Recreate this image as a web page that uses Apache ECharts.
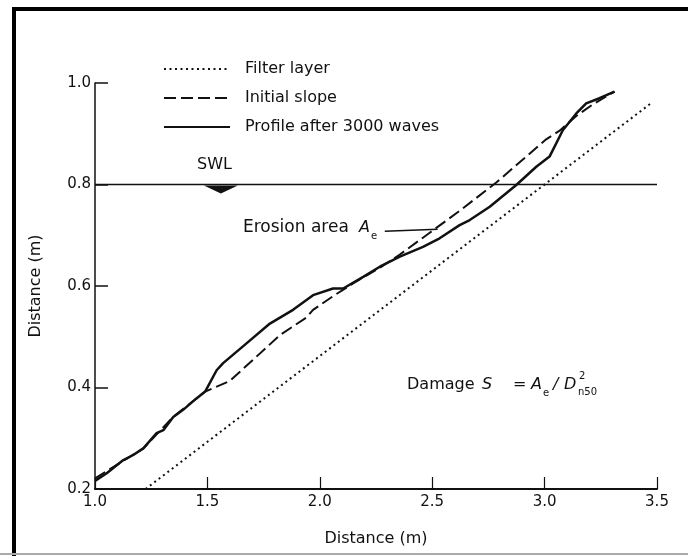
<!DOCTYPE html>
<html>
<head>
<meta charset="utf-8">
<script src="https://cdn.jsdelivr.net/npm/echarts@6/dist/echarts.min.js"></script>
<style>
  html, body { margin: 0; padding: 0; background: #fff; }
  #chart { width: 688px; height: 556px; }
</style>
</head>
<body>
<div id="chart"></div>
<script>
// 数据：坐标 (m)
var filterX = [1.225, 3.476];
var filterY = [0.200, 0.961];

var slopeX = [1.00, 1.215, 1.348, 1.49, 1.60, 1.704, 1.822, 1.941, 1.97, 2.059, 2.148, 2.267, 2.356, 2.489, 2.622, 2.785, 3.007, 3.067, 3.141, 3.215, 3.311];
var slopeY = [0.221, 0.280, 0.342, 0.392, 0.413, 0.455, 0.503, 0.538, 0.553, 0.580, 0.605, 0.636, 0.662, 0.705, 0.748, 0.804, 0.889, 0.906, 0.935, 0.958, 0.983];

var profileX = [1.00, 1.052, 1.126, 1.17, 1.215, 1.274, 1.304, 1.348, 1.392, 1.45, 1.49, 1.541, 1.57, 1.674, 1.778, 1.881, 1.97, 2.059, 2.104, 2.193, 2.267, 2.356, 2.459, 2.533, 2.622, 2.667, 2.756, 2.874, 2.963, 3.022, 3.081, 3.141, 3.185, 3.244, 3.311];
var profileY = [0.216, 0.231, 0.257, 0.267, 0.280, 0.310, 0.316, 0.342, 0.356, 0.378, 0.392, 0.434, 0.448, 0.487, 0.526, 0.553, 0.582, 0.595, 0.595, 0.618, 0.638, 0.658, 0.677, 0.694, 0.720, 0.730, 0.756, 0.799, 0.835, 0.855, 0.907, 0.940, 0.960, 0.970, 0.983];

var swlX = [1.0, 3.5];
var swlY = [0.8, 0.8];

var leaderX = [2.289, 2.524];
var leaderY = [0.708, 0.712];

var names = ['Filter layer', 'Initial slope', 'Profile after 3000 waves'];

function pairs(xs, ys) {
    var out = [];
    for (var i = 0; i < xs.length; i++) {
        out.push([xs[i], ys[i]]);
    }
    return out;
}

var font = 'DejaVu Sans';
var ink = '#111';

var chart = echarts.init(document.getElementById('chart'));

var option = {
    animation: false,
    backgroundColor: '#fff',
    grid: { left: 95, right: 31, top: 83, bottom: 67 },
    legend: {
        data: names,
        orient: 'vertical',
        left: 163,
        top: 61,
        itemWidth: 66,
        itemHeight: 14,
        itemGap: 13,
        padding: 0,
        itemStyle: { opacity: 0 },
        textStyle: { fontFamily: font, fontSize: 16, color: ink, padding: [0, 0, 0, 10] }
    },
    xAxis: {
        type: 'value',
        min: 1.0,
        max: 3.5,
        interval: 0.5,
        name: 'Distance (m)',
        nameLocation: 'middle',
        nameGap: 42,
        nameTextStyle: { fontFamily: font, fontSize: 16, color: ink },
        axisLine: { show: true, lineStyle: { color: ink, width: 2 } },
        axisTick: { show: true, inside: true, length: 12, lineStyle: { color: ink, width: 1.2 } },
        axisLabel: {
            fontFamily: font, fontSize: 15, color: ink, margin: 6,
            formatter: function (v) { return v.toFixed(1); }
        },
        splitLine: { show: false }
    },
    yAxis: {
        type: 'value',
        min: 0.2,
        max: 1.0,
        interval: 0.2,
        name: 'Distance (m)',
        nameLocation: 'middle',
        nameGap: 51,
        nameTextStyle: { fontFamily: font, fontSize: 16, color: ink },
        axisLine: { show: true, lineStyle: { color: ink, width: 1.5 } },
        axisTick: { show: true, inside: true, length: 13, lineStyle: { color: ink, width: 1.5 } },
        axisLabel: {
            fontFamily: font, fontSize: 15, color: ink, margin: 4,
            formatter: function (v) { return v.toFixed(1); }
        },
        splitLine: { show: false }
    },
    series: [
        {
            name: names[0],
            type: 'line',
            symbol: 'none',
            data: pairs(filterX, filterY),
            lineStyle: { color: ink, width: 2, type: [2, 3.5] },
            itemStyle: { color: ink }
        },
        {
            name: names[1],
            type: 'line',
            symbol: 'none',
            data: pairs(slopeX, slopeY),
            lineStyle: { color: ink, width: 2, type: [12, 5] },
            itemStyle: { color: ink }
        },
        {
            name: names[2],
            type: 'line',
            symbol: 'none',
            data: pairs(profileX, profileY),
            lineStyle: { color: ink, width: 2.5 },
            itemStyle: { color: ink },
            markLine: {
                silent: true,
                symbol: 'none',
                label: { show: false },
                lineStyle: { color: ink, width: 1.5, type: 'solid' },
                data: [[
                    { coord: [leaderX[0], leaderY[0]] },
                    { coord: [leaderX[1], leaderY[1]] }
                ]]
            }
        },
        {
            name: 'SWL',
            type: 'line',
            symbol: 'none',
            data: pairs(swlX, swlY),
            lineStyle: { color: ink, width: 1.5 },
            markPoint: {
                silent: true,
                symbol: 'triangle',
                symbolRotate: 180,
                symbolSize: [34, 8],
                symbolOffset: [0, 5],
                itemStyle: { color: ink },
                label: { show: false },
                data: [{ coord: [1.56, 0.8] }]
            }
        }
    ],
    graphic: [
        // 外框
        { type: 'rect', shape: { x: 14, y: 9, width: 700, height: 600 }, style: { fill: 'none', stroke: '#000', lineWidth: 4 } },
        { type: 'line', shape: { x1: 0, y1: 554, x2: 688, y2: 554 }, style: { stroke: '#aaa', lineWidth: 2 } },
        // 注释文字
        { type: 'text', x: 197, y: 165, style: { text: 'SWL', font: '16px "DejaVu Sans"', fill: ink, verticalAlign: 'middle' } },
        { type: 'text', x: 243, y: 228, style: { text: 'Erosion area', font: '17px "DejaVu Sans"', fill: ink, verticalAlign: 'middle' } },
        { type: 'text', x: 359, y: 228, style: { text: 'A', font: 'italic 16px "DejaVu Sans"', fill: ink, verticalAlign: 'middle' } },
        { type: 'text', x: 371, y: 236, style: { text: 'e', font: '10px "DejaVu Sans"', fill: ink, verticalAlign: 'middle' } },
        { type: 'text', x: 407, y: 385, style: { text: 'Damage', font: '16px "DejaVu Sans"', fill: ink, verticalAlign: 'middle' } },
        { type: 'text', x: 482, y: 385, style: { text: 'S', font: 'italic 16px "DejaVu Sans"', fill: ink, verticalAlign: 'middle' } },
        { type: 'text', x: 513, y: 385, style: { text: '=', font: '16px "DejaVu Sans"', fill: ink, verticalAlign: 'middle' } },
        { type: 'text', x: 531, y: 385, style: { text: 'A', font: 'italic 16px "DejaVu Sans"', fill: ink, verticalAlign: 'middle' } },
        { type: 'text', x: 543, y: 393, style: { text: 'e', font: '10px "DejaVu Sans"', fill: ink, verticalAlign: 'middle' } },
        { type: 'text', x: 553, y: 385, style: { text: '/', font: 'italic 16px "DejaVu Sans"', fill: ink, verticalAlign: 'middle' } },
        { type: 'text', x: 564, y: 385, style: { text: 'D', font: 'italic 16px "DejaVu Sans"', fill: ink, verticalAlign: 'middle' } },
        { type: 'text', x: 579, y: 376, style: { text: '2', font: '10px "DejaVu Sans"', fill: ink, verticalAlign: 'middle' } },
        { type: 'text', x: 578, y: 392, style: { text: 'n50', font: '10px "DejaVu Sans"', fill: ink, verticalAlign: 'middle' } }
    ]
};

chart.setOption(option);
</script>
</body>
</html>
